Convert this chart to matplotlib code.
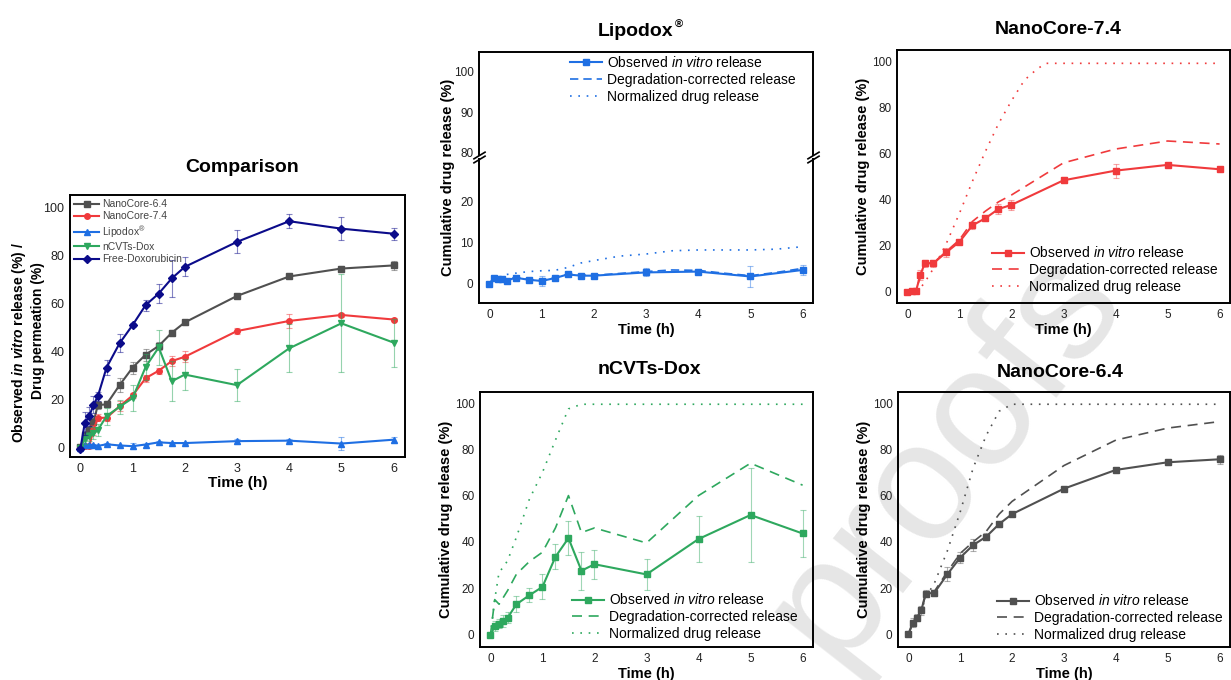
import matplotlib

matplotlib.use("Agg")
import matplotlib.pyplot as plt
import numpy as np

plt.rcParams["font.family"] = ["Liberation Sans", "DejaVu Sans"]
plt.rcParams["mathtext.fontset"] = "custom"
plt.rcParams["mathtext.rm"] = "Liberation Sans"
plt.rcParams["mathtext.it"] = "Liberation Sans:italic"
plt.rcParams["mathtext.bf"] = "Liberation Sans:bold"
plt.rcParams["mathtext.bfit"] = "Liberation Sans:italic:bold"

# sampling times (h)
t = [0, 0.083, 0.167, 0.25, 0.333, 0.5, 0.75, 1, 1.25, 1.5, 1.75, 2, 3, 4, 5, 6]

# NanoCore-6.4
nc64_obs = [0, 5.0, 7.2, 10.4, 17.6, 17.9, 25.9, 33.2, 38.6, 42.2, 47.7, 52.0, 63.0, 71.1, 74.4, 75.7]
nc64_err = [0.3, 2.0, 1.5, 2.0, 1.5, 1.2, 3.0, 2.5, 2.5, 1.5, 1.2, 1.0, 0.8, 0.8, 1.0, 2.0]
nc64_deg = [0, 4.5, 7.0, 10.5, 17.0, 18.5, 27.0, 35.0, 40.0, 44.5, 52.0, 57.5, 73.0, 84.0, 89.2, 92.0]
nc64_norm = [0, 4.0, 7.0, 10.0, 16.0, 22.0, 36.0, 53.0, 72.0, 86.0, 96.5, 99.5, 99.5, 99.5, 99.5, 99.5]

# NanoCore-7.4
nc74_obs = [-0.3, 0.4, 0.4, 7.2, 12.3, 12.3, 17.1, 21.6, 28.8, 31.9, 35.9, 37.7, 48.4, 52.6, 55.1, 53.2]
nc74_err = [0.3, 0.5, 0.5, 2.0, 1.5, 1.5, 2.0, 1.0, 1.5, 1.2, 2.0, 2.2, 1.3, 3.0, 1.0, 0.6]
nc74_deg = [-0.3, 0.4, 0.4, 7.0, 12.0, 12.5, 17.5, 22.5, 30.5, 35.0, 39.0, 42.0, 56.0, 62.0, 65.5, 64.2]
nc74_norm_t = [0, 0.083, 0.167, 0.25, 0.333, 0.5, 0.75, 1, 1.25, 1.5, 1.75, 2, 2.25, 2.5, 2.67, 3, 4, 5, 6]
nc74_norm = [-0.3, 0.4, 0.4, 1.5, 4.0, 10.0, 21.0, 34.0, 48.0, 61.0, 73.0, 83.0, 92.0, 97.0, 99.3, 99.3, 99.3, 99.3, 99.3]

# nCVTs-Dox
ncv_obs = [-0.4, 3.6, 4.6, 5.8, 7.2, 13.0, 16.9, 20.5, 33.5, 41.6, 27.5, 30.3, 25.9, 41.2, 51.6, 43.6]
ncv_err = [0.3, 2.0, 2.0, 2.5, 2.5, 3.5, 3.0, 5.4, 5.4, 7.2, 8.3, 6.3, 6.6, 10.0, 20.4, 10.0]
ncv_deg = [-0.4, 15.0, 13.0, 16.0, 19.0, 26.0, 31.5, 35.5, 46.0, 60.0, 44.0, 46.0, 39.5, 60.0, 74.0, 64.5]
ncv_norm = [-0.4, 15.0, 27.0, 29.0, 32.0, 42.0, 58.5, 70.0, 84.0, 97.5, 99.5, 99.5, 99.5, 99.5, 99.5, 99.5]

# Lipodox
lipo_obs = [-0.2, 1.2, 1.0, 1.0, 0.6, 1.3, 0.8, 0.5, 1.2, 2.1, 1.8, 1.8, 2.6, 2.8, 1.6, 3.2]
lipo_err = [0.2, 0.4, 0.4, 0.4, 0.4, 0.4, 0.4, 1.2, 0.4, 0.4, 0.4, 0.4, 1.0, 0.6, 2.6, 1.2]
lipo_deg_t = [0, 0.083, 0.167, 0.25, 0.333, 0.5, 0.75, 1, 1.25, 1.5, 1.75, 2, 3, 3.5, 4, 4.5, 5, 5.5, 6]
lipo_deg = [-0.2, 1.3, 1.1, 1.1, 0.7, 1.4, 0.9, 0.6, 1.3, 2.2, 1.9, 1.9, 2.8, 3.2, 3.1, 2.4, 1.8, 2.6, 3.6]
lipo_norm_t = [0.333, 0.5, 0.75, 1, 1.25, 1.5, 1.75, 2, 2.5, 3, 3.5, 4, 5, 5.5, 6]
lipo_norm = [2.1, 2.4, 2.8, 3.0, 3.1, 3.8, 4.9, 5.5, 6.6, 7.1, 7.9, 8.1, 8.1, 8.3, 8.9]

# Free doxorubicin (comparison only)
fdox_obs = [-0.5, 10.1, 12.9, 17.7, 21.2, 33.2, 43.3, 50.9, 59.2, 64.0, 70.3, 75.1, 85.5, 94.1, 91.0, 88.9]
fdox_err = [0.5, 4.8, 4.0, 3.5, 2.0, 3.0, 3.8, 1.0, 2.3, 4.0, 7.6, 4.0, 4.8, 2.9, 4.7, 2.5]

C_GRAY = "#505050"
C_RED = "#f03a3c"
C_BLUE = "#1f6fe3"
C_GREEN = "#2ea85e"
C_NAVY = "#0b0b8a"

W, H = 1231, 680
fig = plt.figure(figsize=(W / 100, H / 100), dpi=100)


def px_rect(left, top, right, bottom):
    return [left / W, 1 - bottom / H, (right - left) / W, (bottom - top) / H]


def style_axes(ax, tick_size=8.5):
    ax.patch.set_alpha(0)
    for sp in ax.spines.values():
        sp.set_linewidth(1.4)
    ax.tick_params(length=0, labelsize=tick_size, pad=4, colors="#222222")


def panel_lines(ax, color, obs, err, deg_t, deg, norm_t, norm, dash=(0, (6, 4))):
    ax.errorbar(t, obs, yerr=err, fmt="none", ecolor=color, alpha=0.45,
                elinewidth=0.8, capsize=2.0, capthick=0.8, zorder=2)
    l1, = ax.plot(t, obs, "-s", color=color, lw=1.5, ms=4.2, zorder=3,
                  label="Observed $\\mathit{in\\ vitro}$ release")
    l2, = ax.plot(deg_t, deg, color=color, lw=1.2, ls=dash, zorder=2,
                  label="Degradation-corrected release")
    l3, = ax.plot(norm_t, norm, color=color, lw=1.2, ls=(0, (1, 4)), zorder=2,
                  label="Normalized drug release")
    return [l1, l2, l3]


def add_legend(ax, handles, x_px, y_px, loc):
    ax.legend(handles=handles, loc=loc, bbox_to_anchor=(x_px / W, 1 - y_px / H),
              bbox_transform=fig.transFigure, frameon=False, fontsize=10,
              borderpad=0, borderaxespad=0, handlelength=2.3, handletextpad=0.35,
              labelspacing=0.2, numpoints=1)


def finish_panel(ax, ylim, ticks):
    ax.set_xlim(-0.2, 6.2)
    ax.set_ylim(*ylim)
    ax.set_xticks(range(7))
    ax.set_yticks(ticks)
    ax.set_xlabel("Time (h)", fontsize=10.5, fontweight="bold", labelpad=2)
    ax.set_ylabel("Cumulative drug release (%)", fontsize=10.5, fontweight="bold", labelpad=1)


# ---------------- Comparison ----------------
axc = fig.add_axes(px_rect(70, 195, 405, 457))
style_axes(axc, tick_size=9)
series = [
    ("NanoCore-6.4", nc64_obs, nc64_err, C_GRAY, "s"),
    ("NanoCore-7.4", nc74_obs, nc74_err, C_RED, "o"),
    ("Lipodox$^{\\circledR}$", lipo_obs, lipo_err, C_BLUE, "^"),
    ("nCVTs-Dox", ncv_obs, ncv_err, C_GREEN, "v"),
    ("Free-Doxorubicin", fdox_obs, fdox_err, C_NAVY, "D"),
]
for name, vals, err, col, mk in series:
    axc.errorbar(t, vals, yerr=err, fmt="none", ecolor=col, alpha=0.5,
                 elinewidth=0.8, capsize=2.0, capthick=0.8)
    axc.plot(t, vals, "-", marker=mk, color=col, lw=1.5,
             ms=4.0 if mk != "D" else 3.6, label=name)
axc.set_xlim(-0.2, 6.22)
axc.set_ylim(-4, 105)
axc.set_xticks(range(7))
axc.set_yticks(range(0, 101, 20))
axc.set_xlabel("Time (h)", fontsize=11, fontweight="bold", labelpad=1)
leg = axc.legend(loc="upper left", frameon=False, fontsize=7.5, handlelength=2.4,
                 handletextpad=0.3, labelspacing=0.22, borderaxespad=0.25,
                 borderpad=0.15, numpoints=1)
for txt in leg.get_texts():
    txt.set_color("#444444")
fig.text(242 / W, 1 - 167 / H, "Comparison", ha="center", va="center",
         fontsize=14, fontweight="bold")
fig.text(19 / W, 1 - 343 / H, "Observed $\\mathbfit{in\\ vitro}$ release (%) /",
         rotation=90, ha="center", va="center", fontsize=10, fontweight="bold")
fig.text(38 / W, 1 - 331 / H, "Drug permeation (%)", rotation=90,
         ha="center", va="center", fontsize=10, fontweight="bold")

# ---------------- Lipodox (broken axis) ----------------
ax_up = fig.add_axes(px_rect(479, 52, 813, 155))
ax_lo = fig.add_axes(px_rect(479, 159, 813, 303))
for a in (ax_up, ax_lo):
    style_axes(a)
    panel_lines(a, C_BLUE, lipo_obs, lipo_err, lipo_deg_t, lipo_deg,
                lipo_norm_t, lipo_norm, dash=(0, (5, 3)))
    a.set_xlim(-0.2, 6.2)
    a.set_xticks(range(7))
ax_up.set_ylim(79.5, 104.7)
ax_up.set_yticks([80, 90, 100])
ax_up.spines["bottom"].set_visible(False)
ax_up.tick_params(labelbottom=False)
ax_lo.set_ylim(-4.9, 30.4)
ax_lo.set_yticks([0, 10, 20])
ax_lo.spines["top"].set_visible(False)
ax_lo.set_xlabel("Time (h)", fontsize=10.5, fontweight="bold", labelpad=2)
handles = ax_lo.get_lines()[-3:]
add_legend(ax_up, handles, 570, 55, "upper left")
brk = dict(marker=[(-1, -0.6), (1, 0.6)], markersize=9, linestyle="none",
           color="k", mew=1.2, clip_on=False)
ax_up.plot([0, 1], [0, 0], transform=ax_up.transAxes, **brk)
ax_lo.plot([0, 1], [1, 1], transform=ax_lo.transAxes, **brk)
fig.text(636 / W, 1 - 31 / H, "Lipodox", ha="center", va="center",
         fontsize=14, fontweight="bold")
fig.text(679 / W, 1 - 25 / H, "\u00ae", ha="center", va="center",
         fontsize=8, fontweight="bold")
fig.text(448 / W, 1 - 177 / H, "Cumulative drug release (%)", rotation=90,
         ha="center", va="center", fontsize=10.5, fontweight="bold")

# ---------------- NanoCore-7.4 ----------------
ax74 = fig.add_axes(px_rect(897, 50, 1230, 303))
style_axes(ax74)
h74 = panel_lines(ax74, C_RED, nc74_obs, nc74_err, t, nc74_deg, nc74_norm_t, nc74_norm)
finish_panel(ax74, (-5, 105.1), range(0, 101, 20))
add_legend(ax74, h74, 992, 294, "lower left")
fig.text(1058 / W, 1 - 30 / H, "NanoCore-7.4", ha="center", va="center",
         fontsize=14, fontweight="bold")

# ---------------- nCVTs-Dox ----------------
axn = fig.add_axes(px_rect(480, 392, 813, 647))
style_axes(axn)
hn = panel_lines(axn, C_GREEN, ncv_obs, ncv_err, t, ncv_deg, t, ncv_norm)
finish_panel(axn, (-5.5, 104.8), range(0, 101, 20))
add_legend(axn, hn, 572, 641, "lower left")
fig.text(649 / W, 1 - 370 / H, "nCVTs-Dox", ha="center", va="center",
         fontsize=14, fontweight="bold")

# ---------------- NanoCore-6.4 ----------------
ax64 = fig.add_axes(px_rect(898, 392, 1230, 647))
style_axes(ax64)
h64 = panel_lines(ax64, C_GRAY, nc64_obs, nc64_err, t, nc64_deg, t, nc64_norm)
finish_panel(ax64, (-5.5, 104.8), range(0, 101, 20))
add_legend(ax64, h64, 997, 642, "lower left")
fig.text(1060 / W, 1 - 372 / H, "NanoCore-6.4", ha="center", va="center",
         fontsize=14, fontweight="bold")

# watermark (cut off at the bottom edge, as in the source page)
fig.text(945 / W, 1 - 455 / H, "proofs", rotation=52, ha="center", va="center",
         fontsize=122, color="#e6e6e6", zorder=-5)

fig.savefig("out.png", dpi=100)
